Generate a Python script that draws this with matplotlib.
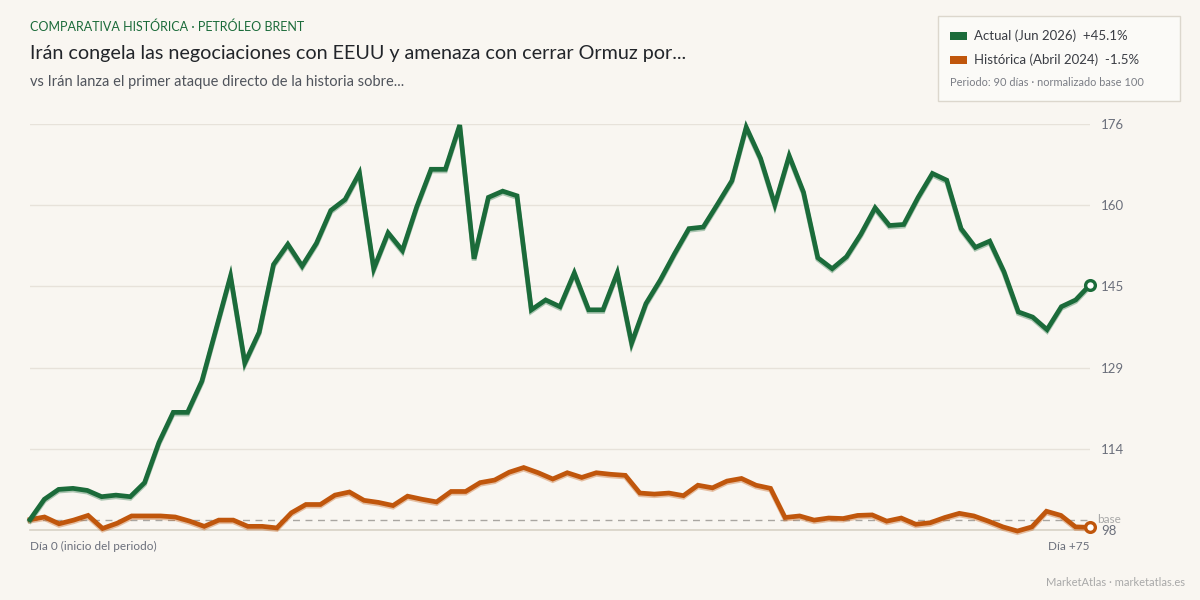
import numpy as np
import matplotlib
matplotlib.use("Agg")
from matplotlib import pyplot as plt
from matplotlib import patheffects as pe
from matplotlib.patches import Rectangle

plt.rcParams['font.family'] = ['Lato', 'DejaVu Sans']

# --- data (normalized to base 100) ---
# current period, Jun 2026
actual = [100.0, 103.9, 105.8, 106.0, 105.6, 104.4, 104.7, 104.4, 107.1, 114.8,
          120.6, 120.6, 126.6, 136.7, 146.8, 130.1, 136.0, 149.0, 152.9, 148.7,
          153.1, 159.4, 161.5, 166.6, 148.2, 155.1, 151.7, 160.1, 167.3, 167.3,
          175.8, 150.1, 161.9, 163.1, 162.2, 140.3, 142.2, 140.9, 147.4, 140.3,
          140.3, 147.4, 133.9, 141.5, 146.0, 151.1, 155.9, 156.2, 160.6, 165.1,
          175.4, 169.4, 160.5, 169.9, 162.9, 150.3, 148.2, 150.5, 154.8, 159.9,
          156.5, 156.7, 161.9, 166.5, 165.2, 155.9, 152.3, 153.5, 147.6, 139.9,
          138.9, 136.5, 140.9, 142.2, 145.1]

# historical period, Abril 2024
historica = [100.0, 100.5, 99.2, 99.9, 100.8, 98.3, 99.3, 100.7, 100.7, 100.7,
             100.5, 99.7, 98.7, 99.9, 99.9, 98.7, 98.7, 98.4, 101.3, 102.9,
             102.9, 104.7, 105.3, 103.7, 103.3, 102.7, 104.5, 103.9, 103.4, 105.4,
             105.4, 107.1, 107.6, 109.1, 110.0, 109.0, 107.8, 109.0, 108.1, 109.0,
             108.7, 108.5, 105.1, 104.9, 105.1, 104.6, 106.6, 106.1, 107.4, 107.9,
             106.6, 106.0, 100.4, 100.7, 99.9, 100.3, 100.2, 100.8, 100.9, 99.7,
             100.3, 99.1, 99.4, 100.4, 101.2, 100.7, 99.7, 98.6, 97.8, 98.6,
             101.6, 100.8, 98.6, 98.5]

n_days = 75
y_min, y_max = 98, 176

labels = ["Actual (Jun 2026)", "Histórica (Abril 2024)"]
kicker = "COMPARATIVA HISTÓRICA · PETRÓLEO BRENT"
title = "Irán congela las negociaciones con EEUU y amenaza con cerrar Ormuz por..."
subtitle = "vs Irán lanza el primer ataque directo de la historia sobre..."

# --- colours ---
bg = '#f9f6f1'
green = '#1b6b3a'
orange = '#c0560c'
grid_c = '#e7e2da'
tick_c = '#6b6f7b'

fig = plt.figure(figsize=(12, 6), dpi=100, facecolor=bg)
ax = fig.add_axes([30/1200, 1 - 530/600, 1060/1200, 406/600])
ax.set_facecolor(bg)

#   both series span the whole period, each with its own number of points
for serie, color in [(historica, orange), (actual, green)]:
    x = np.linspace(0, n_days, len(serie))
    ax.plot(x, serie, color=color, lw=3.4, solid_joinstyle='miter', clip_on=False, zorder=3,
            path_effects=[pe.SimpleLineShadow(offset=(0, -1.2), shadow_color=color, alpha=0.35),
                          pe.Normal()])
    ax.plot([x[-1]], [serie[-1]], 'o', ms=7, mfc='white', mec=color, mew=2.4,
            clip_on=False, zorder=4)

#   base line at 100
ax.axhline(100, color='#a9a6a1', lw=1, dashes=(5, 4), zorder=2)

ax.set_xlim(0, n_days)
ax.set_ylim(y_min, y_max)

yt = np.linspace(y_min, y_max, 6)
ax.set_yticks(yt)
ax.set_yticklabels([f'{v:.0f}' for v in yt])
ax.yaxis.tick_right()
ax.tick_params(axis='y', length=0, pad=8, labelsize=9.5, labelcolor=tick_c)
ax.set_xticks([])
ax.grid(axis='y', color=grid_c, lw=1)
ax.set_axisbelow(True)

for s in ['top', 'left', 'right']:
    ax.spines[s].set_visible(False)
ax.spines['bottom'].set_color('#d8d2c6')
ax.spines['bottom'].set_linewidth(1.2)

ax.text(1.007, 100, 'base', transform=ax.get_yaxis_transform(), ha='left', va='center',
        fontsize=8.5, color='#a8a8a8')

ax.text(0, -0.04, 'Día 0 (inicio del periodo)', transform=ax.transAxes, ha='left', va='center',
        fontsize=8.5, color=tick_c)
ax.text(1, -0.04, f'Día +{n_days}', transform=ax.transAxes, ha='right', va='center',
        fontsize=8.5, color=tick_c)

#   header
fig.text(30/1200, 1 - 27/600, kicker, ha='left', va='center', fontsize=9.0, color=green)
fig.text(30/1200, 1 - 53/600, title, ha='left', va='center', fontsize=14.2, color='#22252a')
fig.text(30/1200, 1 - 82/600, subtitle, ha='left', va='center', fontsize=10.5, color='#50545c')

#   legend box
fig.patches.append(Rectangle((938/1200, 1 - 101/600), 242/1200, 85/600, transform=fig.transFigure,
                             facecolor='#fbfaf7', edgecolor='#dcd7cd', lw=1, zorder=5))
for k, (serie, color) in enumerate([(actual, green), (historica, orange)]):
    yy = 1 - (36 + 24*k)/600
    pct = (serie[-1] / serie[0] - 1) * 100
    fig.patches.append(Rectangle((950/1200, yy - 3.5/600), 17/1200, 7/600, transform=fig.transFigure,
                                 facecolor=color, edgecolor='none', zorder=6))
    fig.text(974/1200, yy, f'{labels[k]}  {pct:+.1f}%', ha='left', va='center',
             fontsize=9.5, color='#3a3d44', zorder=6)
fig.text(950/1200, 1 - 82/600, 'Periodo: 90 días · normalizado base 100', ha='left', va='center',
         fontsize=7.9, color='#7a7d85', zorder=6)

#   footer
fig.text(1185/1200, 1 - 583/600, 'MarketAtlas · marketatlas.es', ha='right', va='center',
         fontsize=8, color='#a9a9a9')

fig.savefig('out.png', dpi=100, facecolor=bg)
